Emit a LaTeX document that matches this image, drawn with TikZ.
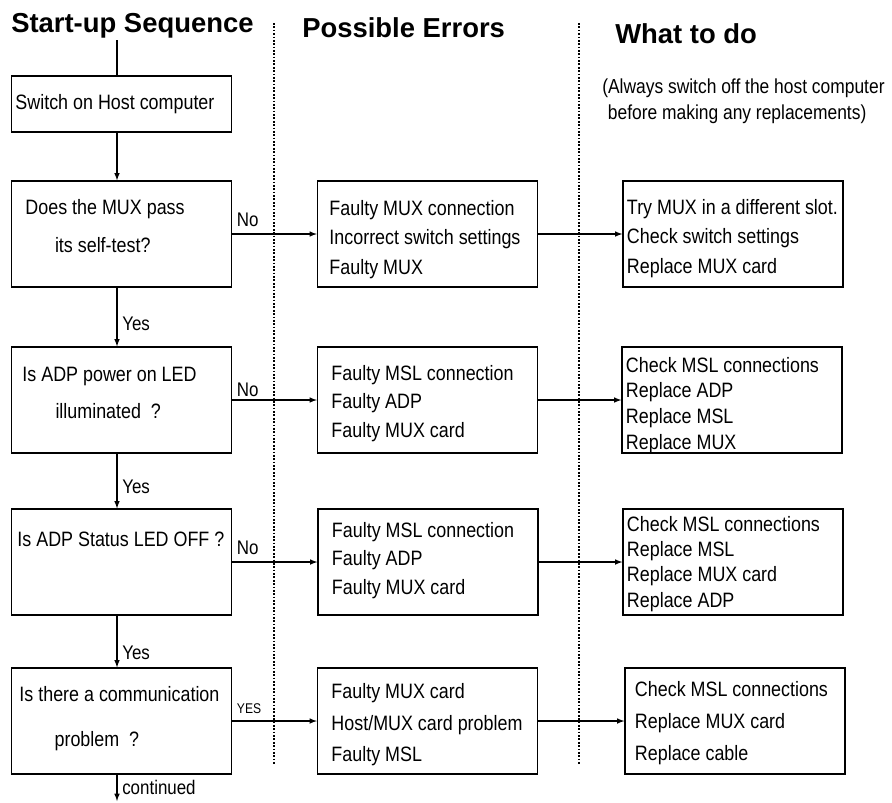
\documentclass[tikz,border=0pt]{standalone}
\usepackage{fontspec}
\setmainfont{Liberation Sans}[FakeStretch=0.86]
\newfontfamily\headfont{Liberation Sans}
\usetikzlibrary{arrows}
\hyphenpenalty=10000
\exhyphenpenalty=10000

\tikzset{
  flowbox/.style={draw, line width=0.9pt, rectangle, minimum width=5.5cm, minimum height=2.65cm,
    inner ysep=0pt, align=flush left, font=\fontsize{14.8}{21}\selectfont},
  askbox/.style={flowbox, text width=5.1cm, inner xsep=0.2cm},
  errbox/.style={flowbox, text width=4.9cm, inner xsep=0.3cm},
  fixbox/.style={flowbox, text width=5.4cm, inner xsep=0.05cm},
  firstline/.style 2 args={text height=#1, text depth=#2},
  heading/.style={font=\headfont\bfseries\fontsize{19.5}{22}\selectfont, anchor=base west, inner sep=0pt},
  answer/.style={font=\fontsize{14}{16}\selectfont},
  reply/.style={answer, anchor=south west, inner xsep=3pt, inner ysep=0pt, yshift=5pt},
  flow/.style={->, >=latex, line width=0.8pt},
  divider/.style={line width=1.4pt, dash pattern=on 1.2pt off 1.2pt}
}

\begin{document}
\begin{tikzpicture}[x=0.025cm, y=-0.025cm]
\useasboundingbox (0,0) rectangle (892,802);

% column headings
\node[heading] (seqtitle) at (11,32) {Start-up Sequence};
\node[heading] (errtitle) at (302,37) {Possible Errors};
\node[heading] (fixtitle) at (615,43) {What to do};
\node[anchor=north west, inner sep=0pt, align=flush left, font=\fontsize{14.4}{18}\selectfont] (caution) at (602,79)
  {(Always switch off the host computer\\\hspace*{4pt}before making any replacements)};

% dotted dividers
\draw[divider] (274,23) -- (274,765);
\draw[divider] (579,23) -- (579,765);

% start-up sequence
\coordinate (spine) at (117,40);
\node[askbox, minimum height=1.4cm, text width=5.3cm, inner xsep=0.1cm] (host) at (121.5,104) {Switch on Host computer};
\node[askbox, inner xsep=0.35cm, text width=4.8cm, firstline={23.5pt}{51.9pt}] (mux) at (121.5,234) {Does the MUX pass\\[6pt]\hspace*{21pt}its self-test?};
\node[askbox, inner xsep=0.275cm, text width=4.95cm, firstline={24.2pt}{51.2pt}] (power) at (121.5,400) {Is ADP power on LED\\[6pt]\hspace*{23.5pt}illuminated\ \ ?};
\node[askbox, inner xsep=0.15cm, text width=5.2cm, firstline={27pt}{48.4pt}] (status) at (121.5,562) {Is ADP Status LED OFF ?};
\node[askbox, firstline={23.5pt}{51.9pt}] (comm) at (121.5,721) {Is there a communication\\[11pt]\hspace*{25pt}problem\ \ ?};

% possible errors
\node[errbox, firstline={24.2pt}{51.2pt}] (muxerr) at (427.5,234) {Faulty MUX connection\\Incorrect switch settings\\Faulty MUX};
\node[errbox, inner xsep=0.35cm, text width=4.8cm, firstline={23.5pt}{51.9pt}, font=\fontsize{14.8}{20.3}\selectfont] (powererr) at (427.5,400) {Faulty MSL connection\\Faulty ADP\\Faulty MUX card};
\node[errbox, inner xsep=0.35cm, text width=4.8cm, firstline={20pt}{55.4pt}, font=\fontsize{14.8}{20.3}\selectfont] (statuserr) at (428,562) {Faulty MSL connection\\Faulty ADP\\Faulty MUX card};
\node[errbox, inner xsep=0.35cm, text width=4.8cm, firstline={22pt}{53.4pt}, font=\fontsize{14.8}{22.4}\selectfont] (commerr) at (427.5,721) {Faulty MUX card\\Host/MUX card problem\\Faulty MSL};

% what to do
\node[fixbox, inner xsep=0.1cm, text width=5.3cm, firstline={23.5pt}{51.9pt}] (muxfix) at (733,234) {Try MUX in a different slot.\\Check switch settings\\Replace MUX card};
\node[fixbox, inner xsep=0.1cm, text width=5.3cm, firstline={17.8pt}{57.6pt}, font=\fontsize{14.8}{18.3}\selectfont] (powerfix) at (732,400) {Check MSL connections\\Replace ADP\\Replace MSL\\Replace MUX};
\node[fixbox, inner xsep=0.1cm, text width=5.3cm, firstline={16.3pt}{59.1pt}, font=\fontsize{14.8}{17.8}\selectfont] (statusfix) at (733,562) {Check MSL connections\\Replace MSL\\Replace MUX card\\Replace ADP};
\node[fixbox, inner xsep=0.25cm, text width=5cm, firstline={20.6pt}{54.8pt}, font=\fontsize{14.8}{22.7}\selectfont] (commfix) at (735,721) {Check MSL connections\\Replace MUX card\\Replace cable};

% main flow
\draw[line width=0.8pt] (spine) -- (host.north -| spine);
\draw[flow] (host.south -| spine) -- (mux.north -| spine);
\draw[flow] (mux.south -| spine) -- node[answer, right, pos=0.62] {Yes} (power.north -| spine);
\draw[flow] (power.south -| spine) -- node[answer, right, pos=0.6] {Yes} (status.north -| spine);
\draw[flow] (status.south -| spine) -- node[answer, right, pos=0.72] {Yes} (comm.north -| spine);
\coordinate (more) at (117,801);
\draw[flow] (comm.south -| spine) -- node[answer, right, pos=0.5] {continued} (more);

% branches
\draw[flow] (mux.east) -- node[reply, pos=0] {No} (muxerr.west);
\draw[flow] (power.east) -- node[reply, pos=0, yshift=-3pt] {No} (powererr.west);
\draw[flow] (status.east) -- node[reply, pos=0] {No} (statuserr.west);
\draw[flow] (comm.east) -- node[reply, pos=0, font=\fontsize{10}{12}\selectfont] {YES} (commerr.west);
\draw[flow] (muxerr.east) -- (muxfix.west);
\draw[flow] (powererr.east) -- (powerfix.west);
\draw[flow] (statuserr.east) -- (statusfix.west);
\draw[flow] (commerr.east) -- (commfix.west);

\end{tikzpicture}
\end{document}
